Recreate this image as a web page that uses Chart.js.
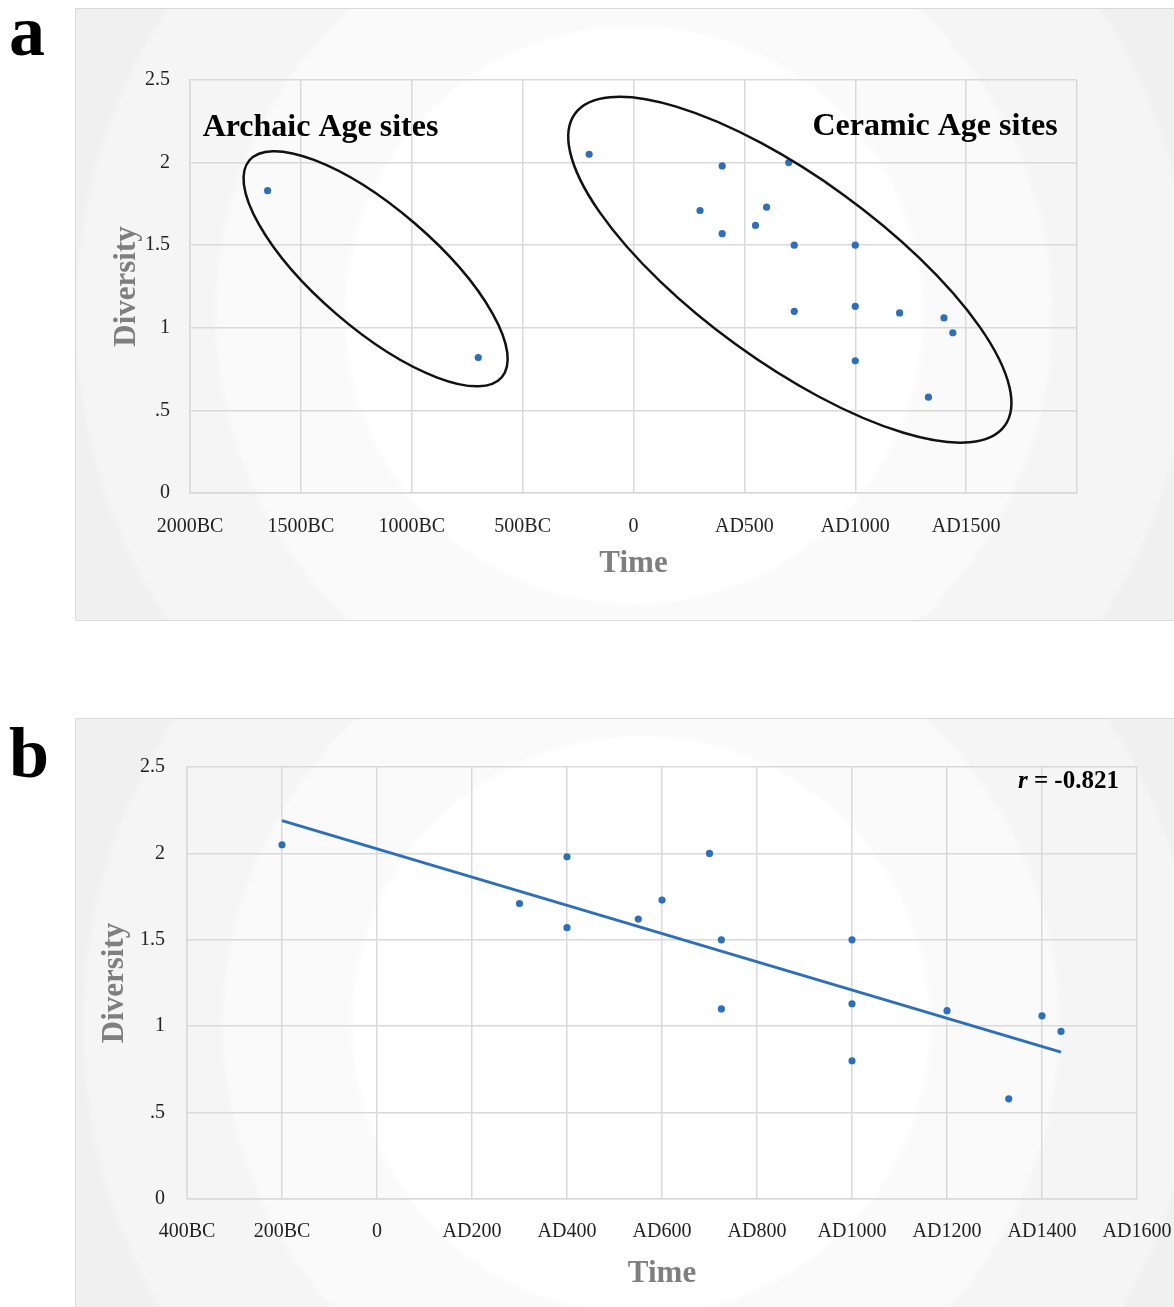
<!DOCTYPE html>
<html><head><meta charset="utf-8">
<script src="https://cdn.jsdelivr.net/npm/chart.js@4.4.1/dist/chart.umd.min.js"></script>
<style>
html,body{margin:0;padding:0;}
body{width:1174px;height:1307px;overflow:hidden;background:#fff;position:relative;font-family:'Liberation Serif','Times New Roman',serif;}
.panel{position:absolute;left:75px;width:1116px;height:613px;border:1.5px solid #d9d9d9;box-sizing:border-box;}
#pa{top:8px;background:radial-gradient(circle at 558px 306px,#ffffff 0,#ffffff 286px,#fafafa 292px,#fafafa 415px,#f5f5f5 421px,#f5f5f5 555px,#f0f0f0 561px,#f0f0f0 700px,#ebebeb 706px);}
#pb{top:718px;background:radial-gradient(circle at 565px 306px,#ffffff 0,#ffffff 286px,#fafafa 292px,#fafafa 415px,#f5f5f5 421px,#f5f5f5 555px,#f0f0f0 561px,#f0f0f0 700px,#ebebeb 706px);}
canvas{position:absolute;left:75px;}
#ca{top:8px;}
#cb{top:718px;}
.letter{position:absolute;left:9px;font:bold 72px 'Liberation Serif',serif;line-height:72px;color:#000;}
</style>
</head><body>
<div class="panel" id="pa"></div>
<div class="panel" id="pb"></div>
<div class="letter" style="top:-5px">a</div>
<div class="letter" style="top:717px">b</div>
<canvas id="ca" width="1099" height="613"></canvas>
<canvas id="cb" width="1099" height="589"></canvas>
<script>
// ---- data ----
const archaicYears = [-1650, -700];
const archaicDiversity = [1.83, 0.82];
const ceramicYears = [-200, 300, 400, 400, 550, 600, 700, 725, 725, 1000, 1000, 1000, 1200, 1330, 1400, 1440];
const ceramicDiversity = [2.05, 1.71, 1.98, 1.57, 1.62, 1.73, 2.00, 1.50, 1.10, 1.50, 1.13, 0.80, 1.09, 0.58, 1.06, 0.97];
const trendYears = [-200, 1440];
const trendDiversity = [2.19, 0.85];
const xTicksA = [-2000, -1500, -1000, -500, 0, 500, 1000, 1500, 2000];
const xLabelsA = ['2000BC', '1500BC', '1000BC', '500BC', '0', 'AD500', 'AD1000', 'AD1500', ''];
const xTicksB = [-400, -200, 0, 200, 400, 600, 800, 1000, 1200, 1400, 1600];
const xLabelsB = ['400BC', '200BC', '0', 'AD200', 'AD400', 'AD600', 'AD800', 'AD1000', 'AD1200', 'AD1400', 'AD1600'];
const yTicks = [0, 0.5, 1, 1.5, 2, 2.5];
const yLabels = ['0', '.5', '1', '1.5', '2', '2.5'];
const rText = '-0.821';

const pts = (xs, ys) => xs.map((x, i) => ({x, y: ys[i]}));
const BLUE = '#2e6fba';
const GRID = '#d9d9d9';
const FONT = 'Liberation Serif';

const annotPlugin = {
  id: 'annot',
  afterDatasetsDraw(chart, args, opts) {
    const {ctx} = chart, xs = chart.scales.x, ys = chart.scales.y;
    (opts.ellipses || []).forEach(e => {
      const x1 = xs.getPixelForValue(e.from[0]), y1 = ys.getPixelForValue(e.from[1]);
      const x2 = xs.getPixelForValue(e.to[0]), y2 = ys.getPixelForValue(e.to[1]);
      const a = Math.hypot(x2 - x1, y2 - y1) / 2;
      ctx.save();
      ctx.beginPath();
      ctx.ellipse((x1 + x2) / 2, (y1 + y2) / 2, a, a * e.ratio, Math.atan2(y2 - y1, x2 - x1), 0, Math.PI * 2);
      ctx.lineWidth = 2.5; ctx.strokeStyle = '#111'; ctx.stroke();
      ctx.restore();
    });
    (opts.texts || []).forEach(t => {
      const px = xs.getPixelForValue(t.at[0]), py = ys.getPixelForValue(t.at[1]);
      ctx.save();
      ctx.fillStyle = '#000'; ctx.textBaseline = 'middle';
      if (t.italicPrefix) {
        ctx.font = 'bold ' + t.size + 'px "' + FONT + '"';
        const w2 = ctx.measureText(t.text).width;
        ctx.font = 'italic bold ' + t.size + 'px "' + FONT + '"';
        const w1 = ctx.measureText(t.italicPrefix).width;
        const start = px - w1 - w2;
        ctx.textAlign = 'left';
        ctx.fillText(t.italicPrefix, start, py);
        ctx.font = 'bold ' + t.size + 'px "' + FONT + '"';
        ctx.fillText(t.text, start + w1, py);
      } else {
        ctx.font = 'bold ' + t.size + 'px "' + FONT + '"';
        ctx.textAlign = t.align;
        ctx.fillText(t.text, px, py);
      }
      ctx.restore();
    });
  }
};

function makeScales(xTicks, xLabels, xmin, xmax, cfg) {
  return {
    x: {
      type: 'linear', min: xmin, max: xmax,
      afterBuildTicks: s => { s.ticks = xTicks.map(v => ({value: v})); },
      ticks: {autoSkip: false, maxRotation: 0, minRotation: 0, padding: cfg.xPad, color: '#222',
        font: {family: FONT, size: 20}, callback: v => xLabels[xTicks.indexOf(v)]},
      grid: {color: GRID, lineWidth: 1.5, drawTicks: false},
      border: {color: GRID, width: 1.5},
      title: {display: true, text: 'Time', color: '#7f7f7f',
        font: {family: FONT, size: 31, weight: 'bold'}, padding: {top: 0, bottom: cfg.xTitlePad}},
      afterFit: s => { s.height = cfg.xH; s.paddingLeft = 0; s.paddingRight = 0; }
    },
    y: {
      type: 'linear', min: 0, max: 2.5,
      afterBuildTicks: s => { s.ticks = yTicks.map(v => ({value: v})); },
      ticks: {padding: cfg.yPad, color: '#222', font: {family: FONT, size: 20},
        callback: v => yLabels[yTicks.indexOf(v)]},
      grid: {color: GRID, lineWidth: 1.5, drawTicks: false},
      border: {color: GRID, width: 1.5},
      title: {display: true, text: 'Diversity', color: '#7f7f7f',
        font: {family: FONT, size: 31, weight: 'bold'}, padding: {top: cfg.yTitlePad, bottom: 0}},
      afterFit: s => { s.width = cfg.yW; s.paddingTop = 0; s.paddingBottom = 0; }
    }
  };
}

new Chart(document.getElementById('ca'), {
  type: 'scatter',
  data: {datasets: [
    {data: pts(archaicYears, archaicDiversity), backgroundColor: BLUE, borderWidth: 0, pointRadius: 3.6},
    {data: pts(ceramicYears, ceramicDiversity), backgroundColor: BLUE, borderWidth: 0, pointRadius: 3.6}
  ]},
  options: {
    responsive: false, animation: false, devicePixelRatio: 1,
    layout: {padding: {top: 72, right: 97, left: 0, bottom: 0}},
    scales: makeScales(xTicksA, xLabelsA, -2000, 2000, {xPad: 22, xTitlePad: 38, xH: 128, yPad: 20, yTitlePad: 33, yW: 115}),
    plugins: {
      legend: {display: false}, tooltip: {enabled: false},
      annot: {
        ellipses: [
          {from: [-1732, 2.014], to: [-594, 0.701], ratio: 0.36},
          {from: [-264, 2.296], to: [1674, 0.407], ratio: 0.347}
        ],
        texts: [
          {text: 'Archaic Age sites', at: [-1943, 2.21], align: 'left', size: 32},
          {text: 'Ceramic Age sites', at: [1360, 2.22], align: 'center', size: 32}
        ]
      }
    }
  },
  plugins: [annotPlugin]
});

new Chart(document.getElementById('cb'), {
  type: 'scatter',
  data: {datasets: [
    {data: pts(ceramicYears, ceramicDiversity), backgroundColor: BLUE, borderWidth: 0, pointRadius: 3.6},
    {data: pts(trendYears, trendDiversity), showLine: true, borderColor: BLUE, borderWidth: 3, pointRadius: 0, fill: false}
  ]},
  options: {
    responsive: false, animation: false, devicePixelRatio: 1,
    layout: {padding: {top: 49, right: 37, left: 0, bottom: 0}},
    scales: makeScales(xTicksB, xLabelsB, -400, 1600, {xPad: 21, xTitlePad: 14, xH: 108, yPad: 22, yTitlePad: 21, yW: 112}),
    plugins: {
      legend: {display: false}, tooltip: {enabled: false},
      annot: {
        texts: [
          {italicPrefix: 'r', text: ' = ' + rText, at: [1562, 2.416], size: 25}
        ]
      }
    }
  },
  plugins: [annotPlugin]
});
</script>
</body></html>
